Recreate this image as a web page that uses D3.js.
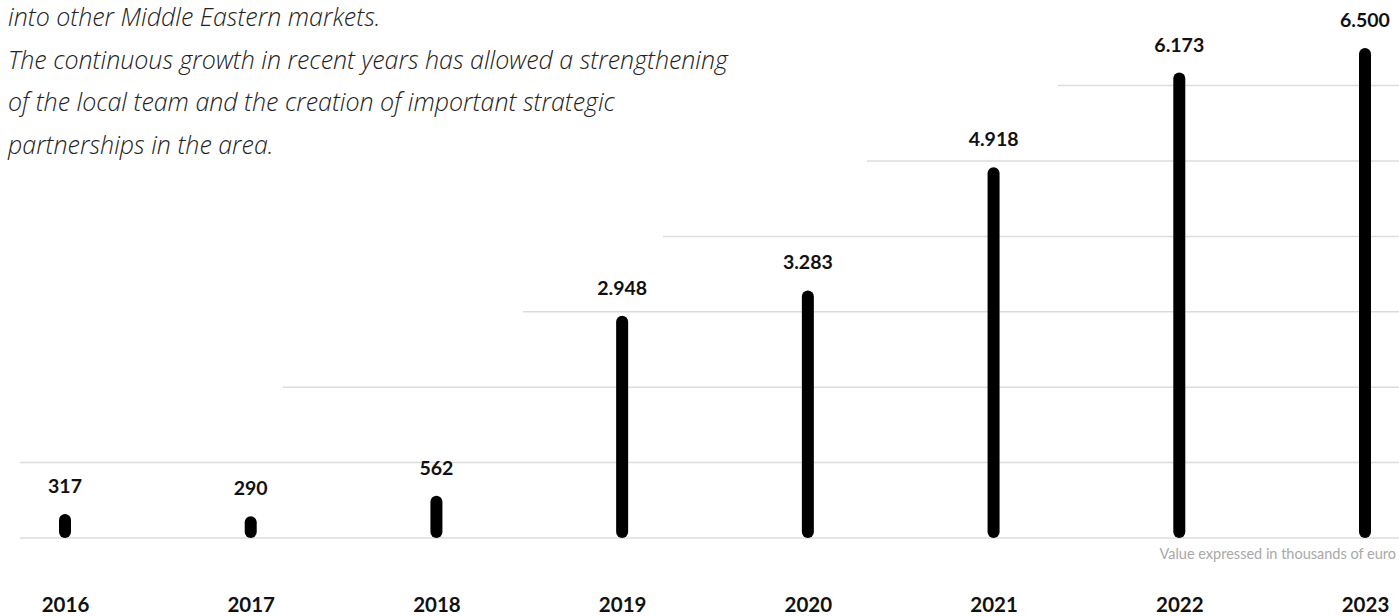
<!DOCTYPE html>
<html>
<head>
<meta charset="utf-8">
<script src="https://cdn.jsdelivr.net/npm/d3@7"></script>
<style>
  html, body { margin: 0; padding: 0; background: #fff; overflow: hidden; }
  svg { display: block; }
</style>
</head>
<body>
<svg id="chart" width="1399" height="616"></svg>
<script>
// ---- data ----
const years = ["2016", "2017", "2018", "2019", "2020", "2021", "2022", "2023"];
const values = [317, 290, 562, 2948, 3283, 4918, 6173, 6500];
const valueLabels = ["317", "290", "562", "2.948", "3.283", "4.918", "6.173", "6.500"];
const gridValues = [1000, 2000, 3000, 4000, 5000, 6000];
const paragraph = [
  "into other Middle Eastern markets.",
  "The continuous growth in recent years has allowed a strengthening",
  "of the local team and the creation of important strategic",
  "partnerships in the area."
];
const footnote = "Value expressed in thousands of euro";

// ---- layout ----
const W = 1399, H = 616;
const baseY = 538;
const gridStart = [20, 283, 523, 663, 867, 1058]; // staircase starts of gridlines
const svg = d3.select("#chart");

const x = d3.scalePoint().domain(years).range([65, 1365]);
const y = d3.scaleLinear().domain([0, 7000]).range([baseY, baseY - 75.4 * 7]);

// gridlines
svg.append("g").selectAll("line")
  .data(gridValues)
  .join("line")
  .attr("x1", (d, i) => gridStart[i])
  .attr("x2", W)
  .attr("y1", d => y(d))
  .attr("y2", d => y(d))
  .attr("stroke", "#dcdcdc")
  .attr("stroke-width", 1.5);

// baseline
svg.append("line")
  .attr("x1", 20).attr("x2", W)
  .attr("y1", y(0)).attr("y2", y(0))
  .attr("stroke", "#dcdcdc")
  .attr("stroke-width", 1.5);

// paragraph
const baseFs = 21;
const para = svg.append("g").selectAll("text")
  .data(paragraph)
  .join("text")
  .attr("x", 8)
  .attr("y", (d, i) => 26 + i * 42.5)
  .attr("font-family", "'Open Sans', Lato, sans-serif")
  .attr("font-style", "italic")
  .attr("font-weight", 300)
  .attr("font-size", baseFs)
  .attr("fill", "#222")
  .text(d => d);

// scale font so the longest line spans like the reference (~720px)
const longest = para.filter((d, i) => i === 1).node();
const curLen = longest.getComputedTextLength();
const fs = Math.min(26, baseFs * 720 / curLen);
para.attr("font-size", fs);

// bars
const barW = 12;
svg.append("g").selectAll("rect")
  .data(values)
  .join("rect")
  .attr("x", (d, i) => x(years[i]) - barW / 2)
  .attr("y", d => y(d))
  .attr("width", barW)
  .attr("height", d => y(0) - y(d))
  .attr("rx", barW / 2)
  .attr("fill", "#000");

// value labels
svg.append("g").selectAll("text")
  .data(values)
  .join("text")
  .attr("x", (d, i) => x(years[i]))
  .attr("y", d => y(d) - 21)
  .attr("text-anchor", "middle")
  .attr("font-family", "Lato, sans-serif")
  .attr("font-weight", 700)
  .attr("font-size", 19.5)
  .attr("fill", "#111")
  .text((d, i) => valueLabels[i]);

// x axis labels
const xAxis = d3.axisBottom(x).tickSize(0).tickPadding(0);
const gx = svg.append("g")
  .attr("transform", `translate(0, ${597})`)
  .call(xAxis);
gx.select(".domain").remove();
gx.selectAll("text")
  .attr("font-family", "Lato, sans-serif")
  .attr("font-weight", 700)
  .attr("font-size", 20.5)
  .attr("fill", "#111");

// footnote
svg.append("text")
  .attr("x", W - 3)
  .attr("y", 559)
  .attr("text-anchor", "end")
  .attr("font-family", "Lato, sans-serif")
  .attr("font-size", 14.5)
  .attr("fill", "#a8a8a8")
  .text(footnote);
</script>
</body>
</html>
